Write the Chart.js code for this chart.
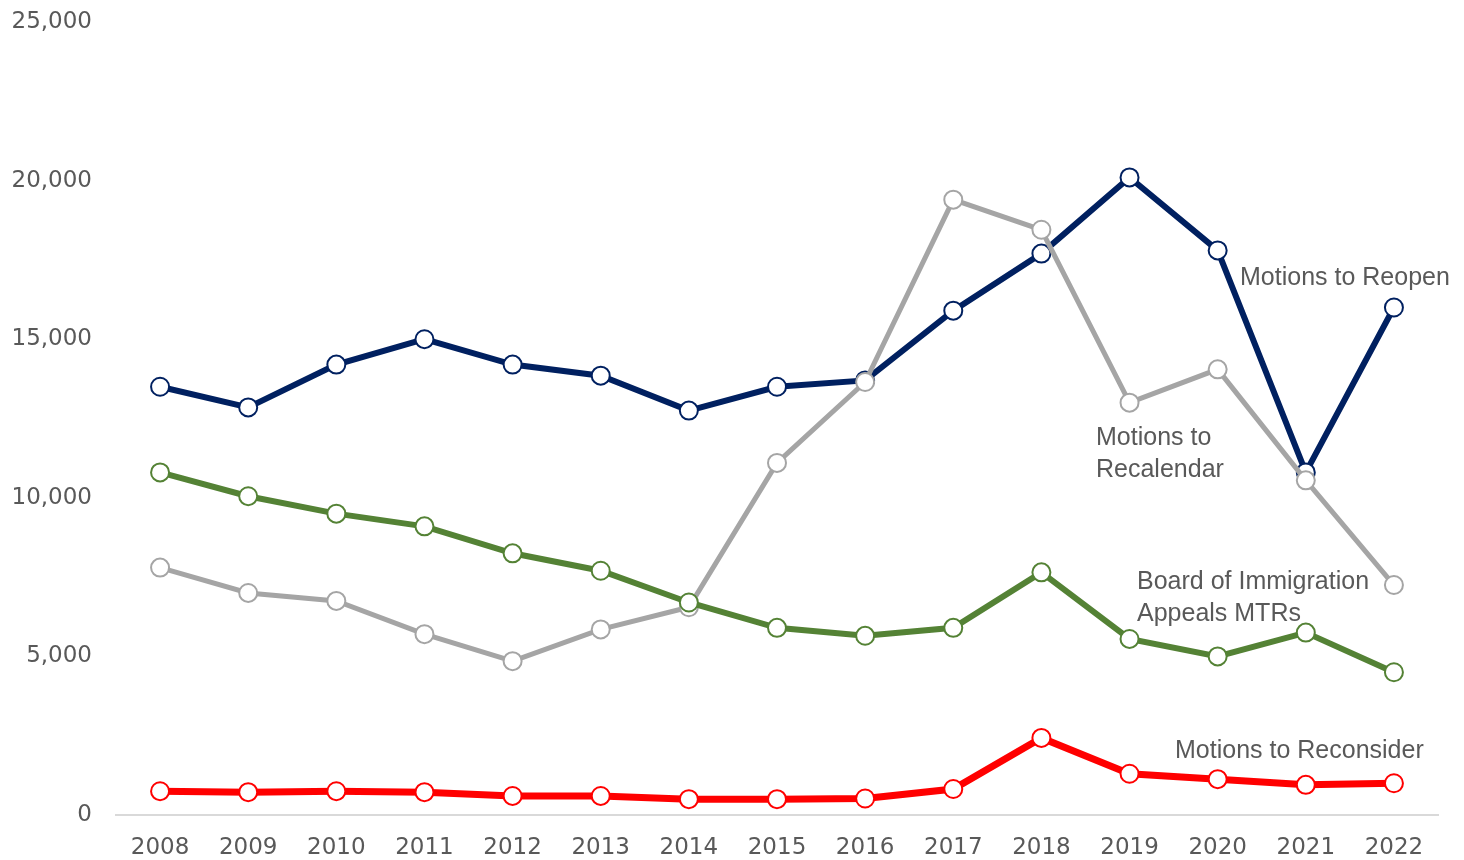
<!DOCTYPE html>
<html>
<head>
<meta charset="utf-8">
<script src="https://cdn.jsdelivr.net/npm/chart.js@4"></script>
<style>
  html, body { margin: 0; padding: 0; background: #fff; }
  #wrap { width: 1464px; height: 860px; }
</style>
</head>
<body>
<div id="wrap"><canvas id="myChart"></canvas></div>
<script>
const years = ["2008", "2009", "2010", "2011", "2012", "2013", "2014", "2015", "2016", "2017", "2018", "2019", "2020", "2021", "2022"];
const reopen = [13500, 12850, 14200, 15000, 14200, 13850, 12750, 13500, 13700, 15900, 17700, 20100, 17800, 10800, 16000];
const recalendar = [7800, 7000, 6750, 5700, 4850, 5850, 6550, 11100, 13650, 19400, 18450, 13000, 14050, 10550, 7250];
const biaMtrs = [10800, 10050, 9500, 9100, 8250, 7700, 6700, 5900, 5650, 5900, 7650, 5550, 5000, 5750, 4500];
const reconsider = [750, 720, 750, 720, 600, 600, 500, 500, 520, 820, 2430, 1300, 1130, 950, 1000];
const yTicks = [0, 5000, 10000, 15000, 20000, 25000];

const textColor = "#595959";
const tickFont = "'DejaVu Sans', sans-serif";
const labelFont = "'Liberation Sans', Arial, sans-serif";

// series labels written next to the lines
const seriesLabels = [
    { lines: ["Motions to Reopen"], x: 1240, y: 278 },
    { lines: ["Motions to", "Recalendar"], x: 1096, y: 438 },
    { lines: ["Board of Immigration", "Appeals MTRs"], x: 1137, y: 582 },
    { lines: ["Motions to Reconsider"], x: 1175, y: 751 },
];

const labelPlugin = {
    id: "seriesLabels",
    afterDatasetsDraw(chart) {
        const ctx = chart.ctx;
        ctx.save();
        ctx.fillStyle = textColor;
        ctx.font = "25px " + labelFont;
        ctx.textAlign = "left";
        ctx.textBaseline = "middle";
        seriesLabels.forEach((l) => {
            l.lines.forEach((t, i) => {
                ctx.fillText(t, l.x, l.y + i * 32);
            });
        });
        ctx.restore();
    },
};

function series(label, data, color, width, order) {
    return {
        label: label,
        data: data,
        borderColor: color,
        borderWidth: width,
        pointRadius: 9,
        pointHoverRadius: 9,
        pointBorderWidth: 2,
        pointBackgroundColor: "#ffffff",
        pointBorderColor: color,
        tension: 0,
        order: order,
    };
}

const ctx = document.getElementById("myChart");
new Chart(ctx, {
    type: "line",
    data: {
        labels: years,
        datasets: [
            series("Motions to Reopen", reopen, "#002060", 6, 4),
            series("Motions to Recalendar", recalendar, "#A5A5A5", 5, 3),
            series("Board of Immigration Appeals MTRs", biaMtrs, "#548235", 6, 2),
            series("Motions to Reconsider", reconsider, "#FF0000", 7, 1),
        ],
    },
    options: {
        responsive: true,
        maintainAspectRatio: false,
        animation: false,
        layout: { padding: { top: 22, right: 26, left: 0, bottom: 0 } },
        plugins: {
            legend: { display: false },
            tooltip: { enabled: false },
        },
        scales: {
            x: {
                offset: true,
                grid: { display: true, drawOnChartArea: false, drawTicks: false },
                border: { display: true, color: "#d9d9d9", width: 2 },
                ticks: {
                    color: textColor,
                    font: { family: tickFont, size: 23 },
                    padding: 19,
                    maxRotation: 0,
                    autoSkip: false,
                },
                afterFit: (s) => { s.height = 45; },
            },
            y: {
                min: 0,
                max: 25000,
                grid: { display: false, drawTicks: false },
                border: { display: false },
                afterBuildTicks: (s) => { s.ticks = yTicks.map((v) => ({ value: v })); },
                ticks: {
                    color: textColor,
                    font: { family: tickFont, size: 23 },
                    padding: 24,
                    callback: (v) => v.toLocaleString("en-US"),
                },
                afterFit: (s) => {
                    s.width = 116;
                    s.paddingTop = 0;
                    s.paddingBottom = 0;
                },
            },
        },
    },
    plugins: [labelPlugin],
});
</script>
</body>
</html>
